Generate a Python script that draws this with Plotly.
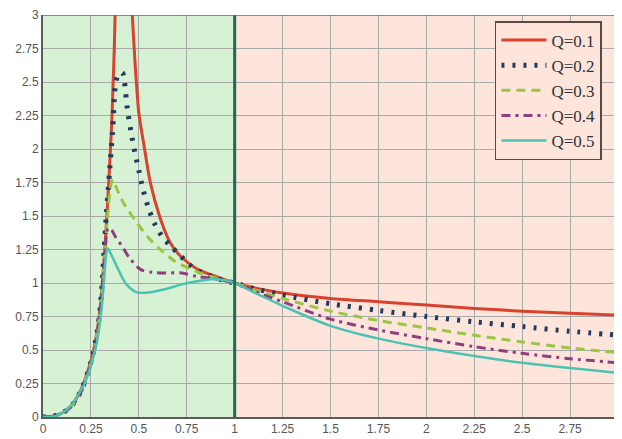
import plotly.graph_objects as go

# ---- data ----
x_q1 = [0, 0.05, 0.1, 0.15, 0.2, 0.25, 0.28, 0.3, 0.32, 0.333, 0.343, 0.352, 0.36, 0.366, 0.372, 0.376, 0.385, 0.42, 0.455, 0.466,
        0.477, 0.487, 0.50, 0.53, 0.56, 0.61, 0.66, 0.71, 0.75, 0.81, 0.88, 0.95, 1.0,
        1.1, 1.25, 1.5, 1.75, 2.0, 2.25, 2.5, 2.75, 3.0]
y_q1 = [0, 0.005, 0.03, 0.09, 0.21, 0.42, 0.62, 0.85, 1.2, 1.5, 1.75, 2.0, 2.25, 2.5, 2.75, 3.0, 3.8, 5.5, 3.35, 3.0,
        2.72, 2.5, 2.27, 2.0, 1.75, 1.49, 1.31, 1.21, 1.16, 1.1, 1.06, 1.025, 1.0,
        0.965, 0.925, 0.885, 0.86, 0.835, 0.81, 0.79, 0.775, 0.76]

x_q2 = [0, 0.05, 0.1, 0.15, 0.2, 0.25, 0.28, 0.3, 0.33, 0.347, 0.363, 0.373, 0.38, 0.395, 0.414, 0.425, 0.44, 0.46,
        0.48, 0.50, 0.52, 0.55, 0.58, 0.62, 0.67, 0.72, 0.76, 0.81, 0.88, 0.94, 1.0,
        1.1, 1.25, 1.5, 1.75, 2.0, 2.25, 2.5, 2.75, 3.0]
y_q2 = [0, 0.005, 0.03, 0.085, 0.2, 0.41, 0.61, 0.84, 1.5, 1.83, 2.13, 2.4, 2.5, 2.56, 2.57, 2.5, 2.3, 2.12,
        1.97, 1.84, 1.71, 1.56, 1.45, 1.35, 1.27, 1.2, 1.14, 1.09, 1.05, 1.02, 1.0,
        0.96, 0.91, 0.845, 0.795, 0.75, 0.71, 0.675, 0.64, 0.61]

x_q3 = [0, 0.05, 0.1, 0.15, 0.2, 0.25, 0.28, 0.3, 0.32, 0.34, 0.357, 0.365, 0.38, 0.415, 0.485, 0.555, 0.62, 0.69,
        0.76, 0.83, 0.92, 1.0,
        1.1, 1.25, 1.5, 1.75, 2.0, 2.25, 2.5, 2.75, 3.0]
y_q3 = [0, 0.005, 0.03, 0.08, 0.2, 0.4, 0.6, 0.83, 1.15, 1.55, 1.75, 1.77, 1.72, 1.61, 1.46, 1.33, 1.24, 1.16,
        1.11, 1.07, 1.03, 1.0,
        0.95, 0.885, 0.79, 0.72, 0.665, 0.61, 0.56, 0.515, 0.48]

x_q4 = [0, 0.05, 0.1, 0.15, 0.2, 0.25, 0.28, 0.3, 0.32, 0.337, 0.35, 0.38, 0.41, 0.45, 0.51, 0.57, 0.64, 0.725,
        0.80, 0.88, 1.0,
        1.1, 1.25, 1.5, 1.75, 2.0, 2.25, 2.5, 2.75, 3.0]
y_q4 = [0, 0.005, 0.028, 0.08, 0.19, 0.39, 0.58, 0.82, 1.15, 1.4, 1.41, 1.34, 1.28, 1.19, 1.1, 1.08, 1.075, 1.075,
        1.05, 1.035, 1.0,
        0.94, 0.86, 0.73, 0.65, 0.585, 0.525, 0.475, 0.435, 0.405]

x_q5 = [0, 0.04, 0.08, 0.12, 0.16, 0.19, 0.22, 0.245, 0.28, 0.305, 0.32, 0.33, 0.337, 0.36, 0.38, 0.41, 0.435, 0.49,
        0.555, 0.64, 0.725, 0.81, 0.90, 1.0,
        1.1, 1.25, 1.5, 1.75, 2.0, 2.25, 2.5, 2.75, 3.0]
y_q5 = [0, 0.0, 0.015, 0.05, 0.11, 0.18, 0.26, 0.36, 0.55, 0.8, 1.05, 1.22, 1.26, 1.2, 1.14, 1.05, 0.99, 0.93,
        0.93, 0.955, 0.99, 1.015, 1.03, 1.0,
        0.93, 0.83, 0.68, 0.585, 0.515, 0.455, 0.405, 0.365, 0.33]

series_names = ["Q=0.1", "Q=0.2", "Q=0.3", "Q=0.4", "Q=0.5"]
tick_vals = [0, 0.25, 0.5, 0.75, 1, 1.25, 1.5, 1.75, 2, 2.25, 2.5, 2.75, 3]
tick_text = ["0", "0.25", "0.5", "0.75", "1", "1.25", "1.5", "1.75", "2", "2.25", "2.5", "2.75", "3"]

styles = [
    dict(color="#d8432e", width=3, dash="solid"),
    dict(color="#233a5e", width=5, dash="3px,8px"),
    dict(color="#9cc545", width=3, dash="9px,6px"),
    dict(color="#8e3f80", width=3, dash="9px,5px,3px,5px"),
    dict(color="#4cc3b2", width=2.5, dash="solid"),
]

fig = go.Figure()
for xs, ys, name, st in zip([x_q1, x_q2, x_q3, x_q4, x_q5],
                            [y_q1, y_q2, y_q3, y_q4, y_q5], series_names, styles):
    fig.add_trace(go.Scatter(x=xs, y=ys, mode="lines", name=name,
                             line=dict(shape="spline", smoothing=0.8, **st)))

# shaded regions
fig.add_shape(type="rect", xref="x", yref="y", x0=0, x1=1, y0=0, y1=3,
              fillcolor="#d6f1d4", line=dict(width=0), layer="below")
fig.add_shape(type="rect", xref="x", yref="y", x0=1, x1=3, y0=0, y1=3,
              fillcolor="#fde5dc", line=dict(width=0), layer="below")
# boundary line at fn = 1
fig.add_shape(type="line", xref="x", yref="y", x0=1, x1=1, y0=0, y1=3,
              line=dict(color="#1c6b4c", width=3), layer="above")
# top border
fig.add_shape(type="line", xref="x", yref="y", x0=0, x1=3, y0=3, y1=3,
              line=dict(color="#6a6a6a", width=1.5), layer="above")

axis_common = dict(range=[0, 3], tickvals=tick_vals, ticktext=tick_text,
                   showgrid=True, gridcolor="#a9a9a9", gridwidth=1,
                   zeroline=False, showline=True, linecolor="#5a5a5a", linewidth=2,
                   ticks="", ticklabeloverflow="allow",
                   tickfont=dict(family="Liberation Sans", size=12, color="#555555"))

# the page body has an 8px default margin, so the figure is sized to fill the rest
fig.update_layout(
    width=614, height=431,
    margin=dict(l=35, r=0, t=4, b=22),
    paper_bgcolor="white", plot_bgcolor="rgba(0,0,0,0)",
    xaxis=dict(**axis_common),
    yaxis=dict(**axis_common),
    showlegend=True,
    legend=dict(x=0.786, y=0.985, xanchor="left", yanchor="top",
                bgcolor="#fde5dc", bordercolor="#5a4a45", borderwidth=1.5,
                font=dict(family="Liberation Serif", size=17, color="#333333"),
                itemwidth=45, tracegroupgap=0),
)

fig.write_html("out.html")
